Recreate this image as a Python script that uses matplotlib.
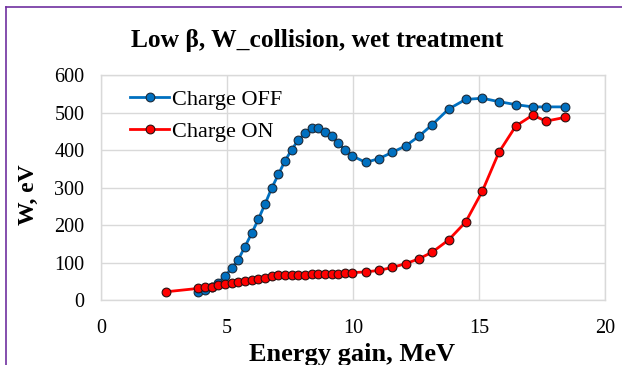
import matplotlib
matplotlib.use("Agg")
import matplotlib.pyplot as plt
from matplotlib.lines import Line2D

# data
energy_off = [3.86, 4.13, 4.39, 4.65, 4.92, 5.19, 5.45, 5.71, 5.98, 6.24, 6.51, 6.77,
              7.04, 7.30, 7.57, 7.83, 8.10, 8.36, 8.63, 8.89, 9.16, 9.42, 9.69, 9.95,
              10.50, 11.03, 11.56, 12.09, 12.62, 13.15, 13.79, 14.47, 15.13, 15.79,
              16.46, 17.13, 17.66, 18.41]
w_off = [21, 27, 36, 46, 64, 85, 108, 142, 178, 215, 256, 298,
         335, 371, 401, 427, 445, 458, 458, 449, 437, 418, 400, 385,
         367, 377, 394, 411, 437, 468, 509, 535, 538, 529,
         521, 515, 515, 515]

energy_on = [2.58, 3.86, 4.13, 4.39, 4.65, 4.92, 5.19, 5.45, 5.71, 5.98, 6.24, 6.51,
             6.77, 7.04, 7.30, 7.57, 7.83, 8.10, 8.36, 8.63, 8.89, 9.16, 9.42, 9.69,
             9.95, 10.50, 11.03, 11.56, 12.09, 12.62, 13.15, 13.79, 14.47, 15.13,
             15.79, 16.46, 17.13, 17.66, 18.41]
w_on = [22, 31, 34, 36, 39, 43, 45, 47, 50, 53, 56, 59,
        63, 66, 68, 68, 68, 68, 69, 70, 70, 70, 70, 71,
        73, 75, 79, 87, 97, 110, 128, 160, 208, 290,
        394, 464, 493, 477, 487]

plt.rcParams['font.family'] = ['Liberation Serif', 'DejaVu Serif']

fig = plt.figure(figsize=(6.22, 3.65), dpi=100)
ax = fig.add_axes([0.1624, 0.178, 0.8103, 0.6165])

ax.plot(energy_off, w_off, color='#0070C0', lw=2.0, marker='o', ms=6.3,
        mfc='#0070C0', mec='#1a2a3a', mew=0.8, label='Charge OFF', zorder=3)
ax.plot(energy_on, w_on, color='#FF0000', lw=2.0, marker='o', ms=6.3,
        mfc='#FF0000', mec='#2a1010', mew=0.8, label='Charge ON', zorder=4)

ax.set_xlim(0, 20)
ax.set_ylim(0, 600)
ax.set_xticks(range(0, 21, 5))
ax.set_yticks(range(0, 601, 100))
ax.grid(True, color='#D9D9D9', lw=1.0)
ax.set_axisbelow(True)
for s in ax.spines.values():
    s.set_color('#D9D9D9')
    s.set_linewidth(1.0)
ax.tick_params(axis='y', length=0, labelsize=14.5, pad=12)
ax.tick_params(axis='x', length=0, labelsize=14.5, pad=14)

leg = ax.legend(loc='upper left', bbox_to_anchor=(0.029, 1.0), frameon=False,
                fontsize=16, handlelength=1.75, handletextpad=0.15,
                labelspacing=0.5, borderaxespad=0.25)

fig.text(0.51, 0.89, 'Low β, W_collision, wet treatment', ha='center', va='center',
         fontsize=18.4, fontweight='bold')
fig.text(0.045, 0.466, 'W, eV', ha='center', va='center', rotation=90,
         fontsize=17, fontweight='bold')
fig.text(0.566, 0.01, 'Energy gain, MeV', ha='center', va='baseline',
         fontsize=19, fontweight='bold')

# slide border
fig.add_artist(Line2D([0.009, 0.009], [0.0, 0.981], color='#7030A0', lw=1.2))
fig.add_artist(Line2D([0.009, 1.0], [0.981, 0.981], color='#7030A0', lw=1.2))

fig.savefig('out.png', dpi=100)
